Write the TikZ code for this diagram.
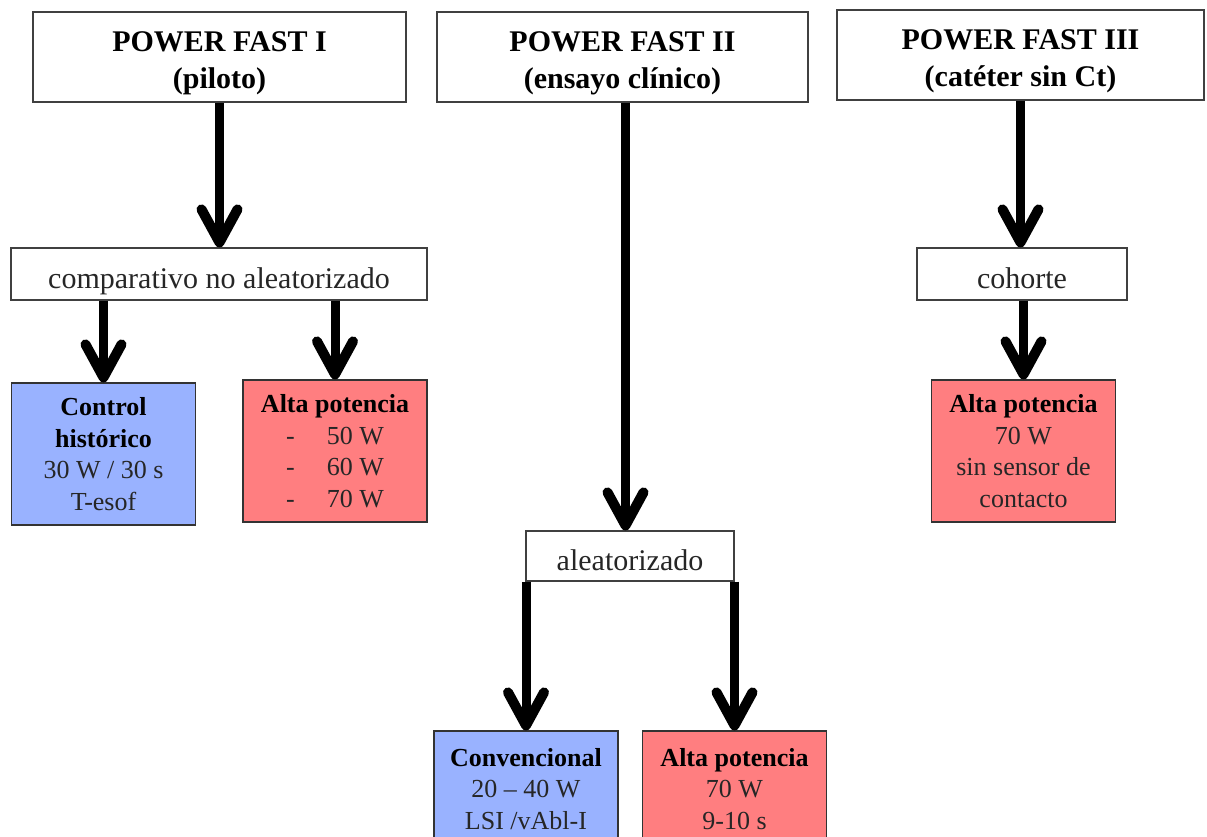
\documentclass[tikz,border=0pt]{standalone}
\usepackage{fontspec}
\setmainfont{Liberation Serif}
\usetikzlibrary{arrows.meta}
\definecolor{azulbox}{RGB}{153,178,255}
\definecolor{rojobox}{RGB}{255,126,128}
\tikzset{
    estudio/.style={draw=black!75, line width=1.2pt, inner sep=0pt, align=center,
        minimum height=90pt, text height=64pt, text depth=0pt,
        font=\fontsize{30}{37}\selectfont\bfseries},
    diseno/.style={draw=black!75, line width=1.2pt, inner sep=0pt, align=center,
        minimum height=52pt, text height=34pt, text depth=6pt,
        font=\fontsize{30}{36}\selectfont, text=black!85},
    brazo/.style={draw=black!80, line width=1.2pt, inner sep=0pt, align=center,
        minimum width=184pt, minimum height=142pt, font=\fontsize{26}{31.5}\selectfont, text=black!85},
    flecha/.style={line width=9pt, -{Straight Barb[length=33pt, width=36pt, line width=10pt, round]}}
}
\begin{document}
\begin{tikzpicture}[x=1pt, y=-1pt]
    \clip (0,0) rectangle (1207,837);
    \fill[white] (0,0) rectangle (1207,837);

    \node[estudio, minimum width=373pt] (pf1) at (219.5,57) {POWER FAST I\\(piloto)};
    \node[estudio, minimum width=371pt] (pf2) at (622.5,57) {POWER FAST II\\(ensayo clínico)};
    \node[estudio, minimum width=367pt] (pf3) at (1020.5,55) {POWER FAST III\\(catéter sin Ct)};

    \node[diseno, minimum width=416pt] (comp) at (219,274) {comparativo no aleatorizado};
    \node[diseno, minimum width=210pt] (coh) at (1022,274) {cohorte};
    \node[diseno, minimum width=208pt, minimum height=50pt] (alea) at (630,556) {aleatorizado};

    \node[brazo, fill=azulbox] (ctrl) at (103.5,454) {\textbf{\color{black}Control}\\\textbf{\color{black}histórico}\\30 W / 30 s\\T-esof};
    \node[brazo, fill=rojobox] (alta1) at (335,451) {\textbf{\color{black}Alta potencia}\\-\hspace{32pt}50 W\\-\hspace{32pt}60 W\\-\hspace{32pt}70 W};
    \node[brazo, fill=rojobox] (alta3) at (1023.5,451) {\textbf{\color{black}Alta potencia}\\70 W\\sin sensor de\\contacto};
    \node[brazo, fill=azulbox, minimum height=116pt] (conv) at (526,789) {\textbf{\color{black}Convencional}\\20 -- 40 W\\LSI /vAbl-I};
    \node[brazo, fill=rojobox, minimum height=116pt] (alta2) at (734.5,789) {\textbf{\color{black}Alta potencia}\\70 W\\9-10 s};

    \draw[flecha] (pf1.south) -- (pf1.south |- comp.north);
    \draw[flecha] (ctrl.north |- comp.south) -- (ctrl.north);
    \draw[flecha] (alta1.north |- comp.south) -- (alta1.north);
    \draw[flecha] ([xshift=3pt]pf2.south) -- ([xshift=3pt]pf2.south |- alea.north);
    \draw[flecha] (conv.north |- alea.south) -- (conv.north);
    \draw[flecha] (alta2.north |- alea.south) -- (alta2.north);
    \draw[flecha] (pf3.south) -- (pf3.south |- coh.north);
    \draw[flecha] (alta3.north |- coh.south) -- (alta3.north);
\end{tikzpicture}
\end{document}
